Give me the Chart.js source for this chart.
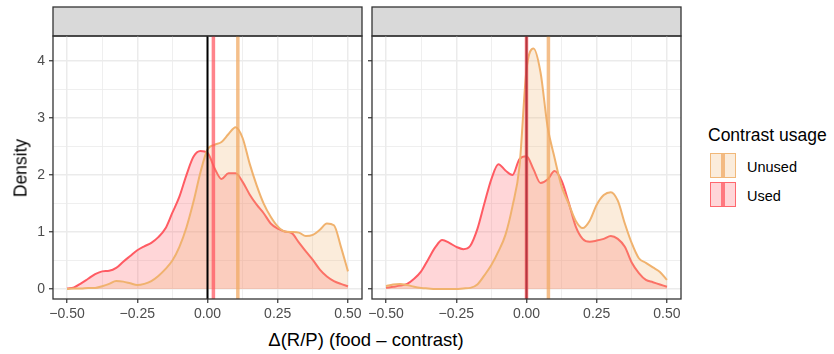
<!DOCTYPE html>
<html>
<head>
<meta charset="utf-8">
<script src="https://cdn.jsdelivr.net/npm/chart.js@4.4.1/dist/chart.umd.min.js"></script>
<style>
  html,body{margin:0;padding:0;background:#fff;}
  #wrap{position:relative;width:834px;height:354px;background:#fff;overflow:hidden;font-family:"Liberation Sans",Arial,sans-serif;}
  canvas{position:absolute;top:0;}
  .txt{position:absolute;color:#000;white-space:nowrap;}
  .key{position:absolute;width:26px;height:25px;box-sizing:border-box;}
  .key .bar{position:absolute;left:50%;top:0;bottom:0;width:3.5px;margin-left:-1.75px;}
</style>
</head>
<body>
<div id="wrap">
  <canvas id="c1" width="372" height="326" style="left:0px"></canvas>
  <canvas id="c2" width="330" height="326" style="left:358px"></canvas>
  <div class="txt" style="top:168px;font-size:17.5px;transform:translate(-50%,-50%) rotate(-90deg);transform-origin:center;left:21px;">Density</div>
  <div class="txt" style="left:366px;top:340px;font-size:18.5px;transform:translate(-50%,-50%);">Δ(R/P) (food – contrast)</div>
  <div class="txt" style="left:708px;top:125px;font-size:17.5px;">Contrast usage</div>
  <div class="key" style="left:710px;top:153px;background:rgba(240,178,110,0.25);border:1.3px solid rgba(240,178,110,0.9);"><div class="bar" style="background:rgba(240,170,100,0.75)"></div></div>
  <div class="key" style="left:710px;top:182px;background:rgba(255,90,100,0.25);border:1.3px solid rgba(255,91,99,0.9);"><div class="bar" style="background:rgba(255,80,90,0.7)"></div></div>
  <div class="txt" style="left:747px;top:159px;font-size:14.5px;">Unused</div>
  <div class="txt" style="left:747px;top:188px;font-size:14.5px;">Used</div>
</div>
<script>
// ---- data ----
const xGrid = [-0.5,-0.475,-0.45,-0.425,-0.4,-0.375,-0.35,-0.325,-0.3,-0.275,-0.25,-0.225,-0.2,-0.175,-0.15,-0.125,-0.1,-0.075,-0.05,-0.025,0,0.025,0.05,0.075,0.1,0.125,0.15,0.175,0.2,0.225,0.25,0.275,0.3,0.325,0.35,0.375,0.4,0.425,0.45,0.475,0.5];

const leftUnused = [0.00,0.01,0.01,0.02,0.02,0.05,0.09,0.14,0.13,0.10,0.07,0.09,0.14,0.23,0.35,0.50,0.74,1.08,1.53,2.05,2.45,2.53,2.58,2.72,2.84,2.65,2.20,1.82,1.50,1.27,1.10,1.01,1.00,0.99,0.93,0.95,1.04,1.15,1.12,0.74,0.31];
const leftUsed   = [0.01,0.03,0.10,0.18,0.26,0.31,0.32,0.37,0.48,0.58,0.68,0.75,0.81,0.91,1.06,1.34,1.62,2.00,2.32,2.42,2.39,2.12,1.93,2.03,2.03,1.88,1.66,1.48,1.33,1.15,1.06,1.01,0.98,0.82,0.66,0.51,0.34,0.22,0.14,0.09,0.05];
const rightUnused= [0.05,0.08,0.09,0.07,0.04,0.02,0.01,0.00,0.00,0.00,0.00,0.01,0.02,0.08,0.24,0.42,0.66,0.95,1.45,2.15,3.85,4.22,3.80,2.85,2.30,1.80,1.50,1.20,1.07,1.20,1.48,1.65,1.70,1.55,1.15,0.80,0.54,0.46,0.38,0.30,0.16];
const rightUsed  = [0.02,0.04,0.06,0.09,0.18,0.31,0.52,0.73,0.86,0.81,0.74,0.70,0.76,1.05,1.50,1.93,2.19,2.08,2.00,2.28,2.33,2.10,1.86,1.92,2.07,1.90,1.52,1.10,0.88,0.83,0.85,0.88,0.93,0.88,0.74,0.46,0.28,0.16,0.12,0.08,0.04];

const meanLeft  = {unused: 0.108, used: 0.021};
const meanRight = {unused: 0.078, used: 0.000};
const refLine = 0;

const xTicks = [-0.5,-0.375,-0.25,-0.125,0,0.125,0.25,0.375,0.5];
const xMajor = [-0.5,-0.25,0,0.25,0.5];
const yTicks = [0,0.5,1,1.5,2,2.5,3,3.5,4];
const yMajor = [0,1,2,3,4];
const xRange = [-0.55, 0.55];
const yRange = [-0.175, 4.44];

// ---- styles ----
const COL_UNUSED_LINE = '#F0B26E';
const COL_UNUSED_FILL = 'rgba(240,178,110,0.25)';
const COL_USED_LINE = '#FF5B63';
const COL_USED_FILL = 'rgba(255,90,100,0.25)';
const COL_UNUSED_MEAN = 'rgba(240,170,100,0.75)';
const COL_USED_MEAN = 'rgba(255,80,90,0.7)';
const FONT = "'Liberation Sans', Arial, sans-serif";

function isMajor(v, list){ return list.some(m => Math.abs(m - v) < 1e-9); }
function fmtX(v){
  const s = Math.abs(v).toFixed(2);
  return v < -1e-9 ? '\u2212' + s : s;
}

function panelPlugin(means){
  return {
    id: 'panel' ,
    beforeDraw(chart){
      const a = chart.chartArea, c = chart.ctx;
      c.save();
      c.fillStyle = '#fff';
      c.fillRect(a.left, a.top, a.right - a.left, a.bottom - a.top);
      // strip
      c.fillStyle = '#D9D9D9';
      c.fillRect(a.left, 7, a.right - a.left, a.top - 7);
      c.strokeStyle = '#333333';
      c.lineWidth = 1.3;
      c.strokeRect(a.left, 7, a.right - a.left, a.top - 7);
      c.restore();
    },
    afterDatasetsDraw(chart){
      const a = chart.chartArea, c = chart.ctx, xs = chart.scales.x;
      c.save();
      c.beginPath(); c.rect(a.left, a.top, a.right - a.left, a.bottom - a.top); c.clip();
      const lines = [
        {v: refLine, col: '#000000', w: 2},
        {v: means.used, col: COL_USED_MEAN, w: 3.5},
        {v: means.unused, col: COL_UNUSED_MEAN, w: 3.5}
      ];
      for (const l of lines){
        const px = xs.getPixelForValue(l.v);
        c.strokeStyle = l.col; c.lineWidth = l.w;
        c.beginPath(); c.moveTo(px, a.top); c.lineTo(px, a.bottom); c.stroke();
      }
      c.restore();
      c.save();
      c.strokeStyle = '#333333'; c.lineWidth = 1.3;
      c.strokeRect(a.left, a.top, a.right - a.left, a.bottom - a.top);
      c.restore();
    }
  };
}

function makeChart(id, unused, used, means, yWidth, padRight, showY){
  const ds = (arr, line, fill) => ({
    data: xGrid.map((x, i) => ({x: x, y: arr[i]})),
    borderColor: line, backgroundColor: fill, borderWidth: 2,
    fill: 'origin', pointRadius: 0, tension: 0.4, cubicInterpolationMode: 'monotone'
  });
  return new Chart(document.getElementById(id), {
    type: 'line',
    data: { datasets: [ ds(unused, COL_UNUSED_LINE, COL_UNUSED_FILL), ds(used, COL_USED_LINE, COL_USED_FILL) ] },
    options: {
      responsive: false, animation: false, devicePixelRatio: 1,
      layout: { padding: { top: 36, right: padRight, left: 0, bottom: 0 } },
      plugins: { legend: {display: false}, tooltip: {enabled: false} },
      scales: {
        x: {
          type: 'linear', min: xRange[0], max: xRange[1],
          afterBuildTicks: s => { s.ticks = xTicks.map(v => ({value: v})); },
          afterFit: s => { s.height = 27; s.paddingLeft = 0; s.paddingRight = 0; },
          border: {display: false},
          grid: {
            color: '#EBEBEB',
            lineWidth: ctx => isMajor(ctx.tick.value, xMajor) ? 1.5 : 0.8,
            drawTicks: true, tickLength: 4, tickWidth: 1.2,
            tickColor: ctx => isMajor(ctx.tick.value, xMajor) ? '#333333' : 'rgba(0,0,0,0)'
          },
          ticks: {
            autoSkip: false, maxRotation: 0, padding: 3, color: '#4D4D4D',
            font: {family: FONT, size: 14},
            callback: v => isMajor(v, xMajor) ? fmtX(v) : ''
          }
        },
        y: {
          type: 'linear', min: yRange[0], max: yRange[1],
          afterBuildTicks: s => { s.ticks = yTicks.map(v => ({value: v})); },
          afterFit: s => { s.width = yWidth; s.paddingTop = 0; s.paddingBottom = 0; },
          border: {display: false},
          grid: {
            color: '#EBEBEB',
            lineWidth: ctx => isMajor(ctx.tick.value, yMajor) ? 1.5 : 0.8,
            drawTicks: true, tickLength: 4, tickWidth: 1.2,
            tickColor: ctx => isMajor(ctx.tick.value, yMajor) ? '#333333' : 'rgba(0,0,0,0)'
          },
          ticks: {
            autoSkip: false, padding: 4, color: '#4D4D4D',
            font: {family: FONT, size: 14},
            callback: v => (showY && isMajor(v, yMajor)) ? String(v) : ''
          }
        }
      }
    },
    plugins: [panelPlugin(means)]
  });
}

makeChart('c1', leftUnused, leftUsed, meanLeft, 53, 10, true);
makeChart('c2', rightUnused, rightUsed, meanRight, 14, 7, false);
</script>
</body>
</html>
